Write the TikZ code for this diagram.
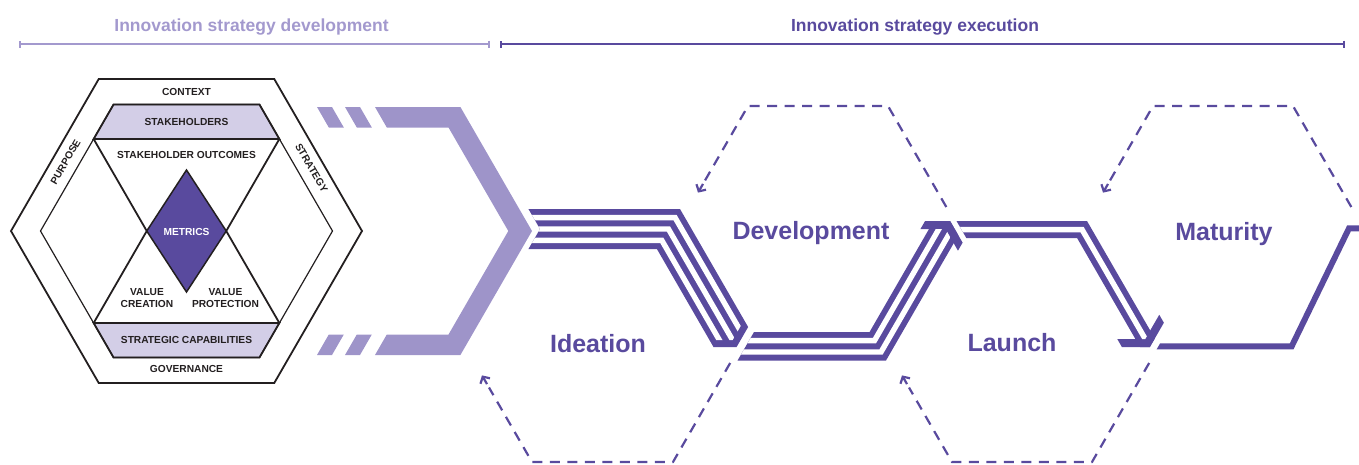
\documentclass[tikz,border=0pt]{standalone}
\usepackage{fontspec}
\setmainfont{Liberation Sans}
\usetikzlibrary{arrows.meta,calc}
\definecolor{darkp}{RGB}{89,74,158}
\definecolor{lightp}{RGB}{158,148,201}
\definecolor{bandfill}{RGB}{211,206,231}
\definecolor{hdrlight}{RGB}{163,153,206}
\definecolor{ink}{RGB}{35,31,32}
\tikzset{
  lbl/.style={font=\bfseries\fontsize{10.2}{12}\selectfont, text=ink, inner sep=0pt},
  big/.style={font=\bfseries\fontsize{25}{30}\selectfont, text=darkp, inner sep=0pt, anchor=base},
  hdr/.style={font=\bfseries\fontsize{17.5}{20}\selectfont, inner sep=0pt, anchor=base},
  hexdash/.style={draw=darkp, line width=2.2pt, dash pattern=on 10pt off 7.5pt},
  hexarrow/.style={draw=darkp, line width=2.2pt, solid, -{Straight Barb[length=5pt,width=11pt]}},
  gapline/.style={draw=white, line join=miter},
  thinline/.style={draw=ink, line width=1.2pt, line join=miter},
  thickline/.style={draw=ink, line width=1.8pt, line join=miter},
}
\begin{document}
\begin{tikzpicture}[x=1pt,y=-1pt]
\useasboundingbox (0,0) rectangle (1359,464);

% ---------- headers ----------
\node[hdr,text=hdrlight] (h1) at (251.5,31) {Innovation strategy development};
\node[hdr,text=darkp] (h2) at (915,31) {Innovation strategy execution};
\coordinate (b1a) at (19,44); \coordinate (b1b) at (490,44);
\coordinate (b2a) at (500,44); \coordinate (b2b) at (1345,44);
\draw[hdrlight, line width=1.6pt, {Bar[width=7pt]}-{Bar[width=7pt]}] (b1a) -- (b1b);
\draw[darkp, line width=1.6pt, {Bar[width=7pt]}-{Bar[width=7pt]}] (b2a) -- (b2b);

% ---------- left hexagon ----------
\fill[bandfill] (113.5,104.56) -- (259.5,104.56) -- (279.36,139) -- (93.64,139) -- cycle;
\fill[bandfill] (93.64,323) -- (279.36,323) -- (259.5,357.44) -- (113.5,357.44) -- cycle;
\draw[thickline] (362,231) -- (274.25,79) -- (98.75,79) -- (11,231) -- (98.75,383) -- (274.25,383) -- cycle;
\draw[thinline] (332.5,231) -- (259.5,104.56) -- (113.5,104.56) -- (40.5,231) -- (113.5,357.44) -- (259.5,357.44) -- cycle;
\draw[thickline] (113.5,104.56) -- (259.5,104.56) -- (279.36,139) -- (93.64,139) -- cycle;
\draw[thickline] (93.64,323) -- (279.36,323) -- (259.5,357.44) -- (113.5,357.44) -- cycle;
\draw[thickline] (93.64,139) -- (146.76,231) -- (93.64,323);
\draw[thickline] (279.36,139) -- (226.24,231) -- (279.36,323);
\filldraw[fill=darkp, draw=ink, line width=1.5pt, line join=miter] (146.76,231) -- (186.5,170) -- (226.24,231) -- (186.5,292) -- cycle;

\node[lbl] (ctx) at (186.5,92) {CONTEXT};
\node[lbl] (stk) at (186.5,122) {STAKEHOLDERS};
\node[lbl] (sto) at (186.5,154.5) {STAKEHOLDER OUTCOMES};
\node[lbl,text=white] (met) at (186.5,232) {METRICS};
\node[lbl,align=center] (vc) at (147,298) {VALUE\\CREATION};
\node[lbl,align=center] (vp) at (225.5,298) {VALUE\\PROTECTION};
\node[lbl] (sc) at (186.5,339.5) {STRATEGIC CAPABILITIES};
\node[lbl] (gov) at (186.5,369) {GOVERNANCE};
\node[lbl,rotate=60] (pur) at (65.5,162) {PURPOSE};
\node[lbl,rotate=-60] (str) at (311.5,168) {STRATEGY};

% ---------- light chevron ----------
\fill[lightp] (375,107) -- (460.4,107) -- (532,231) -- (460.4,355) -- (375,355) -- (386.8,334.5) -- (448.5,334.5) -- (508.3,231) -- (448.5,127.5) -- (386.8,127.5) -- cycle;
\fill[lightp] (317,107) -- (332,107) -- (343.8,127.5) -- (328.8,127.5) -- cycle;
\fill[lightp] (345,107) -- (360,107) -- (371.8,127.5) -- (356.8,127.5) -- cycle;
\fill[lightp] (317,355) -- (332,355) -- (343.8,334.5) -- (328.8,334.5) -- cycle;
\fill[lightp] (345,355) -- (360,355) -- (371.8,334.5) -- (356.8,334.5) -- cycle;

% ---------- ribbon 1 (4 stripes) ----------
\def\bandA{(528.45,209) -- (680,209) -- (748.13,327) -- (736.58,347) -- (713.49,347) -- (656.91,249) -- (528.45,249) -- (540,229) -- cycle}
\fill[darkp] \bandA;
\begin{scope}
  \clip \bandA;
  \clip (450,340.07) -- (732.58,340.07) -- (871.14,100.07) -- (450,100.07) -- cycle;
  \draw[gapline, line width=5.4pt] (500,217.57) -- (675.05,217.57) -- ++(120,207.85);
  \draw[gapline, line width=5.4pt] (500,229) -- (668.45,229) -- ++(120,207.85);
  \draw[gapline, line width=5.4pt] (500,240.43) -- (661.85,240.43) -- ++(120,207.85);
\end{scope}

% ---------- ribbon 2 (3 stripes) ----------
\def\bandB{(754,332) -- (869.55,332) -- (933.63,221) -- (950.09,221) -- (958.32,235.25) -- (886,360.5) -- (737.55,360.5) -- cycle}
\fill[darkp] \bandB;
\fill[darkp] (925.09,221) -- (950.09,221) -- (962.59,242.65) -- (957.97,250.65) -- (945.47,229) -- (920.47,229) -- cycle;
\begin{scope}
  \clip \bandB;
  \clip (700,229) -- (945.47,229) -- (1060.94,429) -- (700,429) -- cycle;
  \draw[gapline, line width=5.4pt] (700,340.55) -- (874.48,340.55) -- ++(100,-173.2);
  \draw[gapline, line width=5.4pt] (700,351.95) -- (881.06,351.95) -- ++(100,-173.2);
\end{scope}

% ---------- ribbon 3 (2 stripes) ----------
\def\bandC{(956.5,221) -- (1087,221) -- (1154.81,338.45) -- (1149.87,347) -- (1140,347) -- (1077.13,238.1) -- (966.37,238.1) -- cycle}
\fill[darkp] \bandC;
\fill[darkp] (1121.87,347) -- (1149.87,347) -- (1163.87,322.75) -- (1159.25,314.75) -- (1145.25,339) -- (1117.25,339) -- cycle;
\begin{scope}
  \clip \bandC;
  \clip (900,339) -- (1145.25,339) -- (1283.81,99) -- (900,99) -- cycle;
  \draw[gapline, line width=5.4pt] (900,229.55) -- (1082.06,229.55) -- ++(120,207.85);
\end{scope}

% ---------- ribbon 4 (1 stripe) ----------
\begin{scope}
  \clip (1127.38,400) -- (1500,400) -- (1500,150) -- (1271.72,150) -- cycle;
  \draw[darkp, line width=5.9pt, line join=miter] (1140,346.35) -- (1291.65,346.35) -- (1349,228.3) -- (1420,228.3);
\end{scope}

% ---------- dashed hexagon edges ----------
\coordinate (id1) at (730.16,363); \coordinate (id2) at (673,462);
\coordinate (id3) at (532,462);    \coordinate (id4) at (482,375.4);
\coordinate (dv1) at (946.31,207); \coordinate (dv2) at (888,106);
\coordinate (dv3) at (748,106);    \coordinate (dv4) at (698,192.6);
\coordinate (la1) at (1149.16,363); \coordinate (la2) at (1092,462);
\coordinate (la3) at (952,462);     \coordinate (la4) at (902,375.4);
\coordinate (ma1) at (1351.31,207); \coordinate (ma2) at (1293,106);
\coordinate (ma3) at (1153,106);    \coordinate (ma4) at (1103,192.6);
\draw[hexdash] (id1) -- (id2) -- (id3) -- ($(id3)!0.86!(id4)$);
\draw[hexdash] (dv1) -- (dv2) -- (dv3) -- ($(dv3)!0.86!(dv4)$);
\draw[hexdash] (la1) -- (la2) -- (la3) -- ($(la3)!0.86!(la4)$);
\draw[hexdash] (ma1) -- (ma2) -- (ma3) -- ($(ma3)!0.86!(ma4)$);
\draw[hexarrow] ($(id3)!0.9!(id4)$) -- (id4);
\draw[hexarrow] ($(dv3)!0.9!(dv4)$) -- (dv4);
\draw[hexarrow] ($(la3)!0.9!(la4)$) -- (la4);
\draw[hexarrow] ($(ma3)!0.9!(ma4)$) -- (ma4);

% ---------- stage labels ----------
\node[big] (ide) at (598,352) {Ideation};
\node[big] (dev) at (811,239.5) {Development};
\node[big] (lau) at (1012,351.7) {Launch};
\node[big] (mat) at (1224,240) {Maturity};
\end{tikzpicture}
\end{document}
